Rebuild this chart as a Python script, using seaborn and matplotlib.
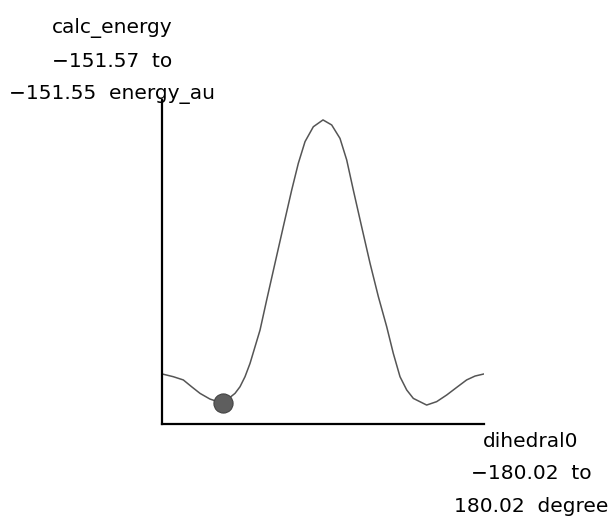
import matplotlib
matplotlib.use("Agg")
import matplotlib.pyplot as plt
import seaborn as sns
import pandas as pd

# Data
dihedral = [-180.0, -167.4, -156.2, -146.9, -137.5, -126.4, -112.2, -98.4, -92.8,
            -87.2, -81.6, -76.0, -70.4, -63.0, -53.7, -44.4, -35.0, -27.6, -20.1,
            -10.8, 0.0, 9.7, 19.0, 26.5, 33.9, 43.2, 52.6, 61.9, 71.2, 78.6, 86.1,
            93.6, 101.0, 115.9, 127.1, 138.3, 149.5, 160.6, 170.0, 180.0]
calc_energy = [-151.56691, -151.56708, -151.56728, -151.56770, -151.56811, -151.56846,
               -151.56872, -151.56811, -151.56770, -151.56708, -151.56626, -151.56523,
               -151.56420, -151.56235, -151.56008, -151.55782, -151.55556, -151.55391,
               -151.55257, -151.55165, -151.55123, -151.55154, -151.55237, -151.55370,
               -151.55556, -151.55782, -151.56008, -151.56214, -151.56399, -151.56564,
               -151.56708, -151.56790, -151.56842, -151.56883, -151.56862, -151.56821,
               -151.56774, -151.56728, -151.56704, -151.56691]
current_point = [-112.2, -151.56872]

x_range = [-180.02, 180.02]
y_range = [-151.57, -151.55]
y_label_lines = ["calc_energy", "\u2212151.57  to", "\u2212151.55  energy_au"]
x_label_lines = ["dihedral0", "\u2212180.02  to", "180.02  degree"]

df = pd.DataFrame({"dihedral": dihedral, "energy": calc_energy})

sns.set_theme(style="white")
plt.rcParams["font.family"] = ["DejaVu Sans"]

W, H = 611, 521
fig = plt.figure(figsize=(W / 100, H / 100), dpi=100)
ax = fig.add_axes([162 / W, (H - 424) / H, 322 / W, 324 / H])

sns.lineplot(data=df, x="dihedral", y="energy", ax=ax, color="#555555",
             linewidth=1.1, sort=False)
ax.scatter([current_point[0]], [current_point[1]], s=190, color="#5e5e5e",
           edgecolor="#444444", linewidth=0.8, zorder=5)

ax.set_xlim(*x_range)
ax.set_ylim(*y_range)
ax.set_xticks([])
ax.set_yticks([])
ax.set_xlabel("")
ax.set_ylabel("")
for s in ["top", "right"]:
    ax.spines[s].set_visible(False)
for s in ["left", "bottom"]:
    ax.spines[s].set_color("black")
    ax.spines[s].set_linewidth(1.6)

fs = 14.5
# y-axis label lines (top left)
for txt, base in zip(y_label_lines, [33, 67, 99]):
    fig.text(112 / W, 1 - base / H, txt, ha="center", va="baseline",
             fontsize=fs, color="black")
# x-axis label lines (bottom right)
for txt, base in zip(x_label_lines, [447, 479, 512]):
    fig.text(531 / W, 1 - base / H, txt, ha="center", va="baseline",
             fontsize=fs, color="black")

fig.savefig("out.png", dpi=100)
